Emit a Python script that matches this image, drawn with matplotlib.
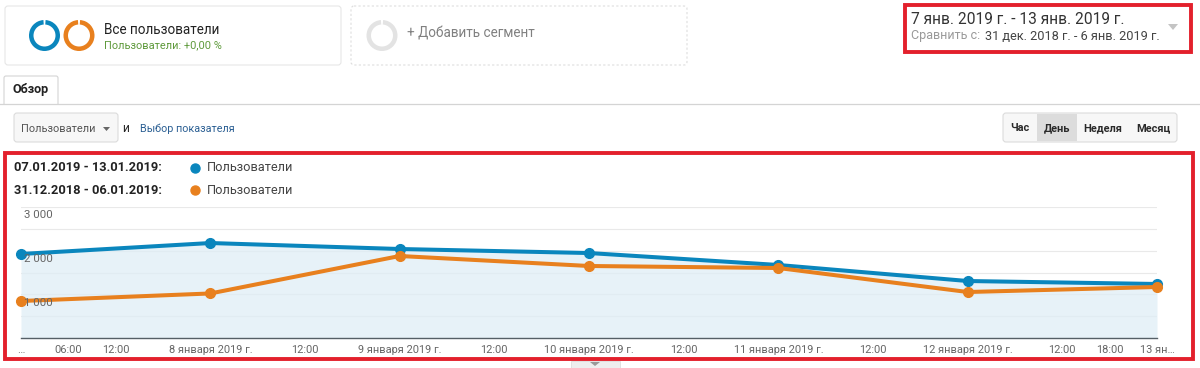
import matplotlib.pyplot as plt
from matplotlib.patches import FancyBboxPatch, Rectangle, Polygon, Wedge

plt.rcParams["font.family"] = ["Roboto", "DejaVu Sans"]

# Data
days = [0, 1, 2, 3, 4, 5, 6]
users_current = [1924, 2175, 2038, 1946, 1672, 1305, 1237]
users_previous = [847, 1020, 1878, 1649, 1603, 1053, 1168]
y_ticks = [0, 500, 1000, 1500, 2000, 2500, 3000]
y_labels = {1000: "1 000", 2000: "2 000", 3000: "3 000"}
x_ticks = [0, 0.25, 0.5, 1, 1.5, 2, 2.5, 3, 3.5, 4, 4.5, 5, 5.5, 5.75, 6]
x_labels = ["…", "06:00", "12:00", "8 января 2019 г.", "12:00", "9 января 2019 г.", "12:00",
            "10 января 2019 г.", "12:00", "11 января 2019 г.", "12:00", "12 января 2019 г.",
            "12:00", "18:00", "13 ян…"]

BLUE = "#0a86bd"; ORANGE = "#e8801e"; RED = "#e3202c"
W, H = 1200, 368
px = 72 / 100  # font px -> pt

fig = plt.figure(figsize=(12, 3.68), dpi=100)

# Chart axes
ax = fig.add_axes([21 / W, 1 - 338 / H, (1157 - 21) / W, (338 - 207) / H])
ax.set_xlim(0, 6); ax.set_ylim(0, 3000)
ax.patch.set_alpha(0)
for s in ["top", "left", "right"]:
    ax.spines[s].set_visible(False)
ax.spines["bottom"].set_color("#555f66"); ax.spines["bottom"].set_linewidth(1)
ax.set_yticks(y_ticks); ax.set_yticklabels([])
ax.grid(axis="y", color="#e9e9e9", linewidth=0.8)
ax.set_axisbelow(True)
ax.tick_params(length=0)
ax.set_xticks(x_ticks)
ax.set_xticklabels(x_labels, fontsize=11 * px, color="#666666")
ax.tick_params(axis="x", pad=5)

ax.fill_between(days, users_current, color="#dfeef6", alpha=0.75, linewidth=0, zorder=1)
ax.plot(days, users_current, color=BLUE, linewidth=2.9, marker="o", markersize=7, clip_on=False, zorder=3)
ax.plot(days, users_previous, color=ORANGE, linewidth=2.9, marker="o", markersize=7, clip_on=False, zorder=4)
for val, lab in y_labels.items():
    ax.annotate(lab, (0, val), xytext=(3 * px, -8.5 * px), textcoords="offset points", fontsize=11.5 * px,
                color="#666666", ha="left", va="center", zorder=5)

# Page elements in pixel coordinates
ui = fig.add_axes([0, 0, 1, 1], zorder=5)
ui.set_xlim(0, W); ui.set_ylim(H, 0); ui.axis("off")


def box(x0, y0, x1, y1, fc="white", ec="#e6e6e6", ls="-", r=3, lw=0.8):
    ui.add_patch(FancyBboxPatch((x0 + r, y0 + r), x1 - x0 - 2 * r, y1 - y0 - 2 * r,
                                boxstyle=f"round,pad={r},rounding_size={r}", fc=fc, ec=ec, ls=ls, lw=lw))


def ring(x, y, color):
    # y axis is flipped, so the small gap at 270 sits on top of the ring
    ui.add_patch(Wedge((x, y), 15.5, 274, 266, width=4.5, fc=color, ec="none"))


box(5, 6, 341, 65)
box(351, 6, 687, 65, ec="#dddddd", ls=(0, (2, 2)))
ring(44.5, 35.5, BLUE); ring(79, 35.5, ORANGE); ring(382, 35.5, "#e3e3e3")
ui.text(104, 29.5, "Все пользователи", fontsize=13.5 * px, color="#222222", va="center")
ui.text(104, 45, "Пользователи: +0,00 %", fontsize=11 * px, color="#5f9a3c", va="center")
ui.text(407, 34, "+ Добавить сегмент", fontsize=13.5 * px, color="#808080", va="center")

# Date range
ui.add_patch(Rectangle((905, 5), 286, 47, fc="none", ec=RED, lw=2.8))
ui.text(911, 19, "7 янв. 2019 г. - 13 янв. 2019 г.", fontsize=15.5 * px, color="#333333", va="center")
ui.text(911, 36, "Сравнить с:", fontsize=12.5 * px, color="#999999", va="center")
ui.text(985, 36, "31 дек. 2018 г. - 6 янв. 2019 г.", fontsize=12.8 * px, color="#444444", va="center")
ui.add_patch(Polygon([[1168, 24], [1178, 24], [1173, 30]], fc="#c4c4c4", ec="none"))

# Tab
ui.plot([0, 1200], [103.5, 103.5], color="#d4d4d4", lw=0.9)
ui.add_patch(FancyBboxPatch((6, 78), 50, 30, boxstyle="round,pad=2,rounding_size=2", fc="white", ec="#d4d4d4", lw=0.8))
ui.add_patch(Rectangle((3, 104.2), 57, 8, fc="white", ec="none"))
ui.text(31, 89, "Обзор", fontsize=12.5 * px, color="#222222", weight="bold", ha="center", va="center")

# Controls
box(14, 113, 118, 142, fc="#f7f7f7", ec="#dcdcdc")
ui.text(21, 128.5, "Пользователи", fontsize=11 * px, color="#555555", va="center")
ui.add_patch(Polygon([[103, 127], [110, 127], [106.5, 131]], fc="#666666", ec="none"))
ui.text(122, 128, "и", fontsize=12 * px, color="#222222", va="center")
ui.text(140.5, 128.5, "Выбор показателя", fontsize=10.7 * px, color="#2b5f93", va="center")

box(1003, 113, 1177, 142, fc="#f7f7f7", ec="#dcdcdc")
ui.add_patch(Rectangle((1037, 114), 40, 27, fc="#dcdcdc", ec="none"))
for xc, lab in zip([1020, 1057, 1103, 1153], ["Час", "День", "Неделя", "Месяц"]):
    ui.text(xc, 128, lab, fontsize=11 * px, color="#2a2a2a", weight="bold", ha="center", va="center")

# Legend of the chart
ui.add_patch(Rectangle((4.5, 153), 1188, 205.5, fc="none", ec=RED, lw=2.8))
ui.text(14, 167.5, "07.01.2019 - 13.01.2019:", fontsize=12.9 * px, color="#222222", weight="bold", va="center")
ui.text(14, 190, "31.12.2018 - 06.01.2019:", fontsize=12.9 * px, color="#222222", weight="bold", va="center")
ui.plot([194.5], [167.5], "o", color=BLUE, markersize=6.5)
ui.plot([194.5], [190], "o", color=ORANGE, markersize=6.5)
ui.text(207, 167.5, "Пользователи", fontsize=12.8 * px, color="#444444", va="center")
ui.text(207, 190, "Пользователи", fontsize=12.8 * px, color="#444444", va="center")

# Small handle under the frame
ui.add_patch(Rectangle((571, 361), 49, 8, fc="#eeeeee", ec="#dddddd", lw=0.6))
ui.add_patch(Polygon([[590, 362], [600, 362], [595, 366]], fc="#999999", ec="none"))

fig.savefig("out.png", dpi=100)
